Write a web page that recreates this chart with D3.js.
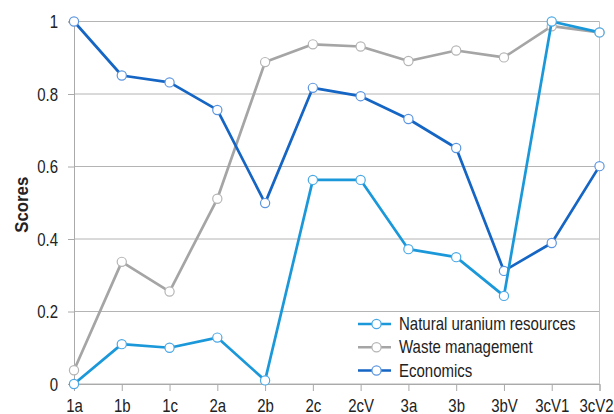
<!DOCTYPE html>
<html>
<head>
<meta charset="utf-8">
<script src="https://cdn.jsdelivr.net/npm/d3@7"></script>
<style>
  body { margin: 0; background: #fff; }
  text { font-family: Arial, "Liberation Sans", sans-serif; fill: #222; }
</style>
</head>
<body>
<div id="chart"></div>
<script>
// categories along x
const categories = ["1a", "1b", "1c", "2a", "2b", "2c", "2cV", "3a", "3b", "3bV", "3cV1", "3cV2"];
// scores
const uranium = [0, 0.11, 0.10, 0.128, 0.01, 0.563, 0.563, 0.372, 0.35, 0.243, 1.0, 0.97];
const waste = [0.038, 0.337, 0.255, 0.511, 0.888, 0.937, 0.931, 0.891, 0.92, 0.901, 0.987, 0.97];
const economics = [1.0, 0.851, 0.832, 0.756, 0.499, 0.817, 0.794, 0.731, 0.651, 0.312, 0.389, 0.601];
const seriesNames = ["Natural uranium resources", "Waste management", "Economics"];
const yTicks = [0, 0.2, 0.4, 0.6, 0.8, 1];

const width = 614, height = 414;
const plotLeft = 74, plotRight = 599.5, plotTop = 21.5, plotBottom = 384;
const stretch = 1.18; // text in the picture is a bit tall

const series = [
  { name: seriesNames[0], values: uranium, color: "#1b98d9", marker: "#4aa8e6" },
  { name: seriesNames[1], values: waste, color: "#a5a5a5", marker: "#b5b5b5" },
  { name: seriesNames[2], values: economics, color: "#1565c4", marker: "#5b95e0" }
];

let svg = d3.select("#chart").append("svg")
    .attr("width", width).attr("height", height);

let x = d3.scalePoint().domain(categories).range([plotLeft, plotRight]);
let y = d3.scaleLinear().domain([0, 1]).range([plotBottom, plotTop]);

// grid lines
svg.append("g").selectAll("line")
    .data(yTicks)
    .join("line")
    .attr("x1", plotLeft).attr("x2", plotRight)
    .attr("y1", d => y(d)).attr("y2", d => y(d))
    .attr("stroke", "#b4b4b4").attr("stroke-width", 1);

// right border
svg.append("line")
    .attr("x1", plotRight).attr("x2", plotRight).attr("y1", plotTop).attr("y2", plotBottom)
    .attr("stroke", "#c4c4c4");

// y axis
let yAxis = svg.append("g")
    .attr("transform", "translate(" + plotLeft + ",0)")
    .call(d3.axisLeft(y).tickValues(yTicks).tickFormat(d3.format("")).tickSize(6).tickPadding(10));
yAxis.select(".domain").attr("stroke", "#aaa");
yAxis.selectAll(".tick line").attr("stroke", "#aaa");
yAxis.selectAll(".tick text")
    .attr("dy", null).attr("y", 0)
    .attr("transform", "translate(0,6) scale(1," + stretch + ")")
    .style("font-size", "15px").attr("fill", "#222");

// x axis
let xAxis = svg.append("g")
    .attr("transform", "translate(0," + plotBottom + ")")
    .call(d3.axisBottom(x).tickSizeOuter(0).tickSize(7));
xAxis.select(".domain").attr("stroke", "#aaa");
xAxis.selectAll(".tick line").attr("stroke", "#aaa");
xAxis.selectAll(".tick text")
    .attr("dy", null).attr("y", 0)
    .attr("transform", (d, i) => "translate(" + (i === categories.length - 1 ? -3.5 : 0) + ",27.5) scale(1," + stretch + ")")
    .style("font-size", "15px").attr("fill", "#222");

// y label
svg.append("text")
    .attr("transform", "translate(27.5," + ((plotTop + plotBottom) / 2 + 2) + ") rotate(-90) scale(1.05,1.18)")
    .attr("text-anchor", "middle")
    .style("font-size", "16px").style("font-weight", "bold")
    .text("Scores");

let line = d3.line()
    .x((d, i) => x(categories[i]))
    .y(d => y(d));

// draw in reverse so uranium sits on top
let drawOrder = [series[1], series[2], series[0]];
drawOrder.forEach(function (s) {
    let g = svg.append("g");
    g.append("path")
        .datum(s.values)
        .attr("fill", "none")
        .attr("stroke", s.color)
        .attr("stroke-width", 2.7)
        .attr("stroke-linejoin", "round")
        .attr("d", line);
    g.selectAll("circle")
        .data(s.values)
        .join("circle")
        .attr("cx", (d, i) => x(categories[i]))
        .attr("cy", d => y(d))
        .attr("r", 4.6)
        .attr("fill", "#fff")
        .attr("stroke", s.marker)
        .attr("stroke-width", 1.2);
});

// legend
let legend = svg.append("g");
let legendY = d3.scalePoint().domain(seriesNames).range([324, 370.5]);
series.forEach(function (s) {
    let ly = legendY(s.name);
    let item = legend.append("g");
    item.append("line")
        .attr("x1", 358).attr("x2", 391).attr("y1", ly).attr("y2", ly)
        .attr("stroke", s.color).attr("stroke-width", 2.7);
    item.append("circle")
        .attr("cx", 376.5).attr("cy", ly).attr("r", 4.6)
        .attr("fill", "#fff").attr("stroke", s.marker).attr("stroke-width", 1.2);
    item.append("text")
        .attr("transform", "translate(399," + (ly + 6) + ") scale(1," + stretch + ")")
        .style("font-size", "15px")
        .text(s.name);
});
</script>
</body>
</html>
